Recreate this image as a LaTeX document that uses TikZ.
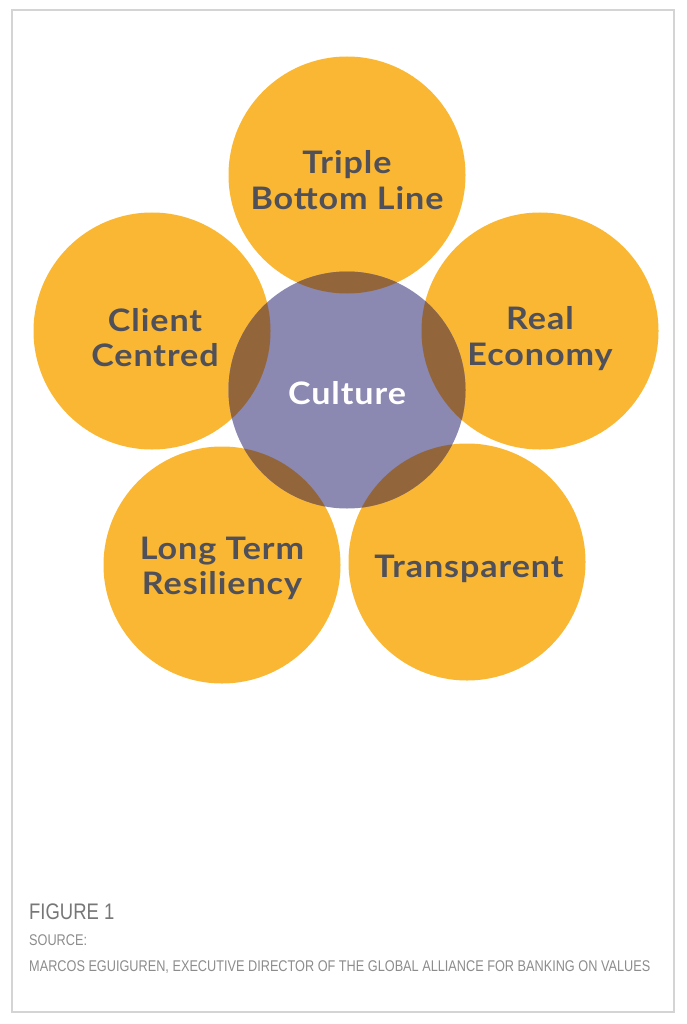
\documentclass[tikz,border=0pt]{standalone}
\usepackage{fontspec}
\setmainfont{Lato}
\newfontfamily\lblfont[FakeStretch=1.1,LetterSpace=3]{Lato}
\newfontfamily\capfont[FakeStretch=0.82]{Liberation Sans}
\definecolor{orng}{HTML}{F9B733}
\definecolor{purp}{HTML}{8B88B1}
\definecolor{brwn}{HTML}{93653A}
\definecolor{txt}{HTML}{4F505A}
\definecolor{capgray}{HTML}{8C8C8C}
\definecolor{frame}{HTML}{D4D4D4}
\begin{document}
\begin{tikzpicture}[x=1pt,y=-1pt,
  petal/.style={fill=orng,draw=none},
  lbl/.style={text=txt,font=\lblfont\bfseries\fontsize{31}{35.5}\selectfont,align=center,inner sep=0pt},
  captext/.style={anchor=west,inner sep=0pt,text=capgray}]
\useasboundingbox (0,0) rectangle (687,1024);
\draw[frame,line width=1.2pt] (12,10) rectangle (674,1012);
% outer circles
\coordinate (ct) at (347,175);
\coordinate (cl) at (152,331);
\coordinate (cr) at (540,331);
\coordinate (cbl) at (222,565);
\coordinate (cbr) at (467,562);
\coordinate (cc) at (347,390);
\foreach \c in {ct,cl,cr,cbl,cbr} \fill[petal] (\c) circle (118.5);
\fill[purp] (cc) circle (118.5);
\begin{scope}
\clip (cc) circle (118.5);
\foreach \c in {ct,cl,cr,cbl,cbr} \fill[brwn] (\c) circle (118.5);
\end{scope}
\node[lbl] (t) at (347,180) {Triple\\Bottom Line};
\node[lbl] (l) at (155,337.5) {Client\\Centred};
\node[lbl] (r) at (540,338.5) {Real\\Economy};
\node[lbl] (bl) at (222,568.5) {Long Term\\Resiliency};
\node[lbl] (br) at (469,569) {Transparent};
\node[lbl,text=white] (c) at (347,393) {Culture};
\node[captext,font=\capfont\fontsize{22.5}{26}\selectfont,text=capgray!85!black] (fig) at (29,912) {FIGURE 1};
\node[captext,font=\capfont\fontsize{15.5}{18}\selectfont] (src) at (29,940) {SOURCE:};
\node[captext,font=\capfont\fontsize{15.5}{18}\selectfont] (auth) at (29,967) {MARCOS EGUIGUREN, EXECUTIVE DIRECTOR OF THE GLOBAL ALLIANCE FOR BANKING ON VALUES};
\end{tikzpicture}
\end{document}
